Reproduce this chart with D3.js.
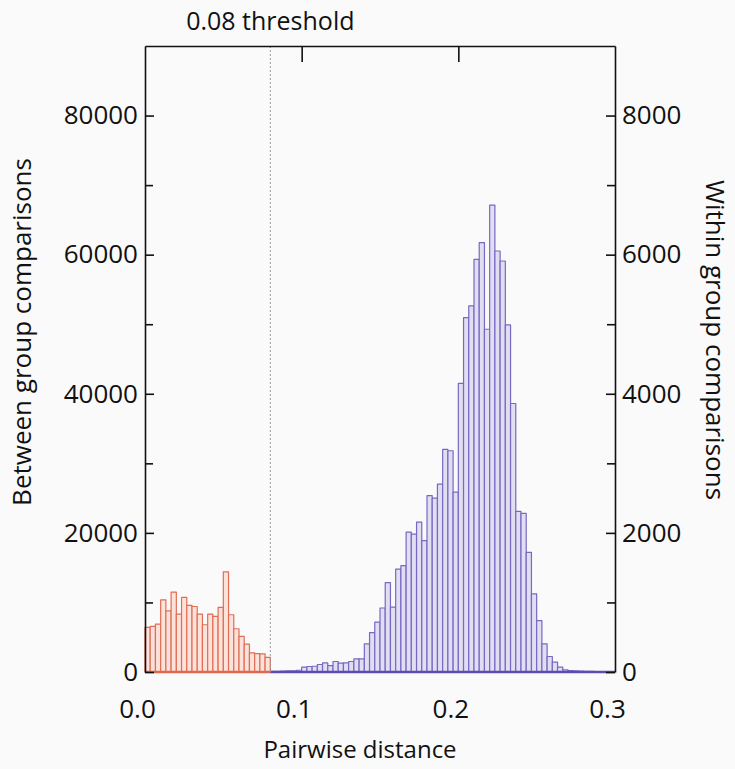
<!DOCTYPE html>
<html>
<head>
<meta charset="utf-8">
<script src="https://cdn.jsdelivr.net/npm/d3@7"></script>
<style>
  body { margin: 0; background: #fafafa; }
  svg { display: block; font-family: "Open Sans", sans-serif; }
  .axis text { fill: #111; }
</style>
</head>
<body>
<div id="chart"></div>
<script>
// histogram bins: 90 bins of equal width over 0 .. 0.3
const binWidth = 0.3 / 90;
const threshold = 0.08;

// within group comparisons (right axis), bins 0..23  (distance < 0.08)
const withinCounts = [
  641, 655, 689, 1038, 880, 1149, 833, 1072, 957, 942, 833, 679,
  833, 799, 928, 1440, 823, 622, 511, 402, 275, 265, 260, 210
];

// between group comparisons (left axis), bins 24..89  (distance >= 0.08)
const betweenCounts = [
  100, 100, 120, 150, 150, 250, 690, 790, 830, 1080, 1320, 930,
  1510, 1270, 1320, 1510, 1890, 1890, 4040, 5650, 7180, 9200, 12850, 9330,
  14800, 15290, 20100, 19820, 21540, 18880, 25350, 24990, 27000, 32020, 31810, 25850,
  41500, 50950, 52630, 59330, 61720, 49280, 67130, 60530, 59090, 49900, 38600, 23100,
  22800, 17200, 11230, 7400, 4050, 2230, 1410, 690, 310, 200, 150, 120,
  100, 80, 60, 50, 40, 30
];

const xTicks = [0, 0.1, 0.2, 0.3];
const leftTicks = [0, 20000, 40000, 60000, 80000];
const leftMinor = [10000, 30000, 50000, 70000];
const rightTicks = [0, 2000, 4000, 6000, 8000];
const rightMinor = [1000, 3000, 5000, 7000];

const width = 735;
const height = 769;
const margin = { top: 46, right: 120, bottom: 97, left: 145 };

const svg = d3.select("#chart")
  .append("svg")
  .attr("width", width)
  .attr("height", height);

const x = d3.scaleLinear()
  .domain([0, 0.3])
  .range([margin.left, width - margin.right]);

const yLeft = d3.scaleLinear()
  .domain([0, 90000])
  .range([height - margin.bottom, margin.top]);

const yRight = d3.scaleLinear()
  .domain([0, 9000])
  .range([height - margin.bottom, margin.top]);

// build bin objects
const withinBins = withinCounts.map((v, i) => ({ x0: i * binWidth, x1: (i + 1) * binWidth, v }));
const betweenBins = betweenCounts.map((v, i) => ({
  x0: (i + withinCounts.length) * binWidth,
  x1: (i + withinCounts.length + 1) * binWidth,
  v
}));

// red bars (within group)
svg.append("g")
  .selectAll("rect")
  .data(withinBins)
  .join("rect")
  .attr("x", d => x(d.x0))
  .attr("width", d => x(d.x1) - x(d.x0))
  .attr("y", d => yRight(d.v))
  .attr("height", d => yRight(0) - yRight(d.v))
  .attr("fill", "#fbe3dc")
  .attr("stroke", "#e06e55")
  .attr("stroke-width", 1.2)
  .attr("stroke-linejoin", "round");

// purple bars (between group)
svg.append("g")
  .selectAll("rect")
  .data(betweenBins)
  .join("rect")
  .attr("x", d => x(d.x0))
  .attr("width", d => x(d.x1) - x(d.x0))
  .attr("y", d => yLeft(d.v))
  .attr("height", d => yLeft(0) - yLeft(d.v))
  .attr("fill", "#e2def2")
  .attr("stroke", "#7669c3")
  .attr("stroke-width", 1.2)
  .attr("stroke-linejoin", "round");

// baselines
svg.append("line")
  .attr("x1", x(0)).attr("x2", x(threshold))
  .attr("y1", yLeft(0)).attr("y2", yLeft(0))
  .attr("stroke", "#e0684f").attr("stroke-width", 2.5);
svg.append("line")
  .attr("x1", x(threshold)).attr("x2", x(0.3))
  .attr("y1", yLeft(0)).attr("y2", yLeft(0))
  .attr("stroke", "#5a4db0").attr("stroke-width", 2.5);

// threshold line
svg.append("line")
  .attr("x1", x(threshold)).attr("x2", x(threshold))
  .attr("y1", margin.top).attr("y2", yLeft(0))
  .attr("stroke", "#9a9a9a")
  .attr("stroke-width", 1)
  .attr("stroke-dasharray", "2,2");

function styleAxis(g) {
  g.attr("class", "axis")
    .attr("font-family", null)
    .attr("font-size", null)
    .style("font-size", "26px");
  g.selectAll("path, line").attr("stroke", "#111").attr("stroke-width", 1.6);
}

// left axis
svg.append("g")
  .attr("transform", `translate(${margin.left},0)`)
  .call(d3.axisLeft(yLeft).tickValues(leftTicks).tickFormat(d3.format("d"))
    .tickSizeInner(-9).tickSizeOuter(0).tickPadding(7))
  .call(styleAxis);
svg.append("g")
  .attr("transform", `translate(${margin.left},0)`)
  .call(d3.axisLeft(yLeft).tickValues(leftMinor).tickFormat("")
    .tickSizeInner(-8).tickSizeOuter(0))
  .call(styleAxis)
  .call(g => g.select(".domain").remove());

// right axis
svg.append("g")
  .attr("transform", `translate(${width - margin.right},0)`)
  .call(d3.axisRight(yRight).tickValues(rightTicks).tickFormat(d3.format("d"))
    .tickSizeInner(-9).tickSizeOuter(0).tickPadding(7))
  .call(styleAxis);
svg.append("g")
  .attr("transform", `translate(${width - margin.right},0)`)
  .call(d3.axisRight(yRight).tickValues(rightMinor).tickFormat("")
    .tickSizeInner(-8).tickSizeOuter(0))
  .call(styleAxis)
  .call(g => g.select(".domain").remove());

// top axis (ticks only)
svg.append("g")
  .attr("transform", `translate(0,${margin.top})`)
  .call(d3.axisTop(x).tickValues([0.1, 0.2]).tickFormat("")
    .tickSizeInner(-16).tickSizeOuter(0))
  .call(styleAxis);

// bottom axis (labels only)
svg.append("g")
  .attr("transform", `translate(0,${yLeft(0)})`)
  .call(d3.axisBottom(x).tickValues(xTicks).tickFormat(d3.format(".1f"))
    .tickSize(0).tickPadding(28))
  .call(styleAxis)
  .call(g => g.select(".domain").remove())
  .call(g => g.selectAll(".tick text").attr("dx", -8));

// titles
svg.append("text")
  .attr("x", x(threshold))
  .attr("y", 30)
  .attr("text-anchor", "middle")
  .style("font-size", "25px")
  .attr("fill", "#111")
  .text("0.08 threshold");

svg.append("text")
  .attr("x", 360)
  .attr("y", 758)
  .attr("text-anchor", "middle")
  .style("font-size", "24px")
  .attr("fill", "#111")
  .text("Pairwise distance");

svg.append("text")
  .attr("transform", "translate(31,332) rotate(-90)")
  .attr("text-anchor", "middle")
  .style("font-size", "26px")
  .attr("fill", "#111")
  .text("Between group comparisons");

svg.append("text")
  .attr("transform", "translate(706,340) rotate(90)")
  .attr("text-anchor", "middle")
  .style("font-size", "26px")
  .attr("fill", "#111")
  .text("Within group comparisons");
</script>
</body>
</html>
